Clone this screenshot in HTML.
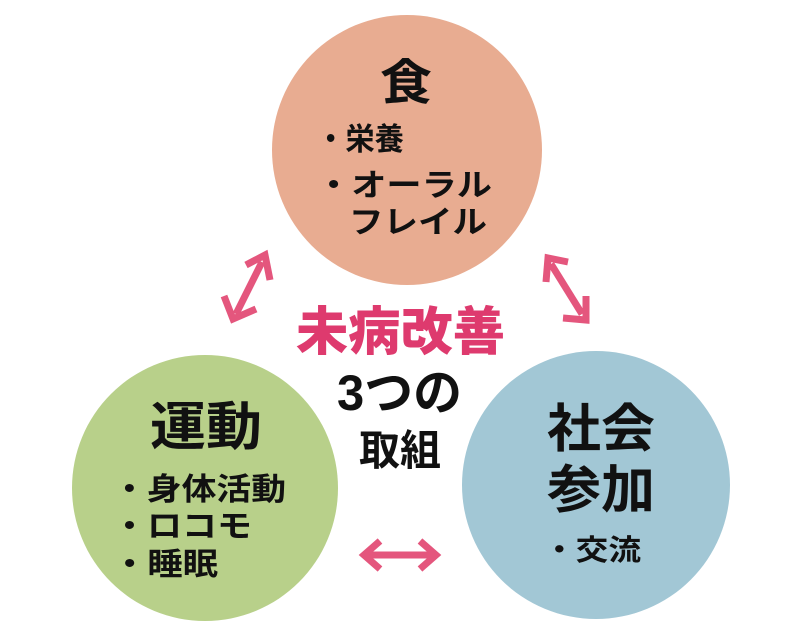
<!DOCTYPE html>
<html><head><meta charset="utf-8"><style>
body{margin:0;width:800px;height:638px;background:#fff;overflow:hidden}
</style></head><body>
<svg width="800" height="638" xmlns="http://www.w3.org/2000/svg" font-family="'Liberation Sans','Noto Sans CJK JP',sans-serif" font-weight="bold">
<circle cx="407" cy="150" r="135" fill="#e8ac91"/>
<circle cx="205" cy="488" r="133" fill="#b8d08a"/>
<circle cx="596" cy="485" r="134" fill="#a2c7d5"/>
<g stroke="#e4567d" stroke-width="7" fill="none" stroke-linejoin="miter">
<line x1="236" y1="314" x2="262" y2="262"/>
<polyline points="224,296 233,319 256,309"/>
<polyline points="246,265 265,255 270,280"/>
<line x1="551" y1="264" x2="582" y2="314"/>
<polyline points="546,282 548,258 568,262"/>
<polyline points="563,318 586,320 586,296"/>
<line x1="366" y1="555" x2="434" y2="555"/>
<polyline points="380,541 364,555 380,569"/>
<polyline points="420,541 436,555 420,569"/>
</g>
<g fill="#111" lengthAdjust="spacingAndGlyphs">
<text x="380" y="99" font-size="48" textLength="52" lengthAdjust="spacingAndGlyphs">食</text>
<text x="316" y="150" font-size="31" textLength="88" lengthAdjust="spacingAndGlyphs">・栄養</text>
<text x="316" y="196" font-size="31" textLength="176" lengthAdjust="spacingAndGlyphs">・オーラル</text>
<text x="349" y="233" font-size="31" textLength="138" lengthAdjust="spacingAndGlyphs">フレイル</text>
<text x="150" y="445" font-size="52" textLength="112" lengthAdjust="spacingAndGlyphs">運動</text>
<text x="112" y="500" font-size="31" textLength="174" lengthAdjust="spacingAndGlyphs">・身体活動</text>
<text x="112" y="537" font-size="31" textLength="140" lengthAdjust="spacingAndGlyphs">・ロコモ</text>
<text x="112" y="575" font-size="31" textLength="106" lengthAdjust="spacingAndGlyphs">・睡眠</text>
<text x="547" y="447" font-size="52" textLength="108" lengthAdjust="spacingAndGlyphs">社会</text>
<text x="547" y="508" font-size="52" textLength="108" lengthAdjust="spacingAndGlyphs">参加</text>
<text x="543" y="560" font-size="29" textLength="98" lengthAdjust="spacingAndGlyphs">・交流</text>
<text x="337" y="410" font-size="50" textLength="125" lengthAdjust="spacingAndGlyphs">3つの</text>
<text x="359" y="465" font-size="42" textLength="82" lengthAdjust="spacingAndGlyphs">取組</text>
</g>
<text x="296" y="350" font-size="52" fill="#de3a6e" font-weight="900" textLength="209" lengthAdjust="spacingAndGlyphs">未病改善</text>
</svg>
</body></html>
